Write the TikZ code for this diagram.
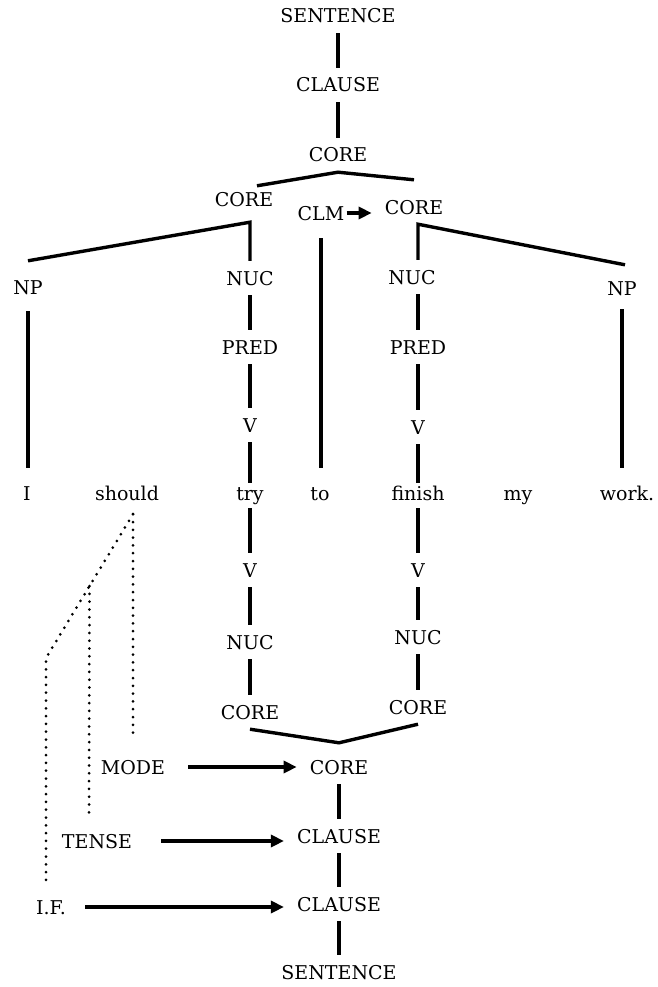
\documentclass[tikz,border=0pt]{standalone}
\usepackage{fontspec}
\setmainfont{DejaVu Serif}
\usetikzlibrary{arrows.meta,calc}

\tikzset{
  lbl/.style={inner xsep=2pt, inner ysep=10pt, text height=14pt, text depth=0pt},
  word/.style={anchor=base, inner xsep=2pt, inner ysep=3pt, text height=14pt, text depth=5pt},
  branch/.style={line width=3.4pt},
  feed/.style={line width=3.4pt, -{Triangle[length=13pt,width=12pt]}, shorten >=11pt},
  oper/.style={line width=3pt, line cap=round, dash pattern=on 0pt off 7.8pt},
}

\begin{document}
\begin{tikzpicture}[x=1pt, y=-1pt, font=\fontsize{19}{23}\selectfont]
    \useasboundingbox (0,0) rectangle (658,987);

    % constituent projection
    \node[lbl] (sentT) at (338,16) {SENTENCE};
    \node[lbl] (clauseT) at (338,85) {CLAUSE};
    \node[lbl] (coreT) at (338,155) {CORE};
    \node[lbl] (coreA) at (244,200) {CORE};
    \node[lbl] (clm) at (321,213) {CLM};
    \node[lbl] (coreB) at (414,207) {CORE};
    \node[lbl] (npA) at (28,287) {NP};
    \node[lbl] (nucA) at (250,278) {NUC};
    \node[lbl] (predA) at (250,347) {PRED};
    \node[lbl] (vA) at (250,425) {V};
    \node[lbl] (nucB) at (412,277) {NUC};
    \node[lbl] (predB) at (418,347) {PRED};
    \node[lbl] (vB) at (418,427) {V};
    \node[lbl] (npB) at (622,288) {NP};

    % the sentence itself
    \node[word] (wI) at (27,500) {I};
    \node[word] (wShould) at (127,500) {should};
    \node[word] (wTry) at (250,500) {try};
    \node[word] (wTo) at (320,500) {to};
    \node[word] (wFinish) at (418,500) {finish};
    \node[word] (wMy) at (518,500) {my};
    \node[word] (wWork) at (627,500) {work.};

    % operator projection
    \node[lbl] (vA2) at (250,570) {V};
    \node[lbl] (nucA2) at (250,642) {NUC};
    \node[lbl] (coreA2) at (250,712) {CORE};
    \node[lbl] (vB2) at (418,570) {V};
    \node[lbl] (nucB2) at (418,637) {NUC};
    \node[lbl] (coreB2) at (418,707) {CORE};
    \node[lbl] (coreJ) at (339,767) {CORE};
    \node[lbl] (clauseJ) at (339,836) {CLAUSE};
    \node[lbl] (clauseK) at (339,904) {CLAUSE};
    \node[lbl] (sentK) at (339,972) {SENTENCE};
    \node[lbl] (mode) at (133,767) {MODE};
    \node[lbl] (tense) at (97,841) {TENSE};
    \node[lbl] (illoc) at (51,907) {I.F.};

    % upper branches
    \draw[branch] (sentT) -- (clauseT);
    \draw[branch] (clauseT) -- (coreT);
    \draw[branch] ([xshift=13pt,yshift=-3pt]coreA.north) -- (coreT.south) -- ([yshift=10pt]coreB.north);
    \coordinate (kA) at ([xshift=6pt,yshift=-5pt]coreA.south);
    \coordinate (kB) at ([xshift=4pt]coreB.south);
    \draw[branch] ([yshift=9pt]npA.north) -- (kA) -- (kA |- nucA.north);
    \draw[branch] ([xshift=3pt,yshift=6pt]npB.north) -- (kB) -- (kB |- nucB.north);
    \draw[branch] (nucA) -- (predA);
    \draw[branch] (predA) -- (vA);
    \draw[branch] (vA) -- (wTry);
    \draw[branch] (nucB.south -| predB) -- (predB);
    \draw[branch] (predB) -- (vB);
    \draw[branch] (vB) -- (wFinish);
    \draw[branch, shorten >=15pt] ([yshift=-7pt]npA.south) -- (npA.south |- wI.north);
    \draw[branch, shorten >=15pt] ([yshift=-4pt]npB.south) -- (npB.south |- wWork.north);
    \draw[branch, shorten >=15pt] ([yshift=-8pt]clm.south) -- (clm.south |- wTo.north);
    \draw[feed] (clm.east) -- (clm.east -| coreB.west);

    % lower branches
    \draw[branch] (wTry) -- (vA2);
    \draw[branch] (vA2) -- (nucA2);
    \draw[branch] (nucA2) -- (coreA2);
    \draw[branch] (wFinish) -- (vB2);
    \draw[branch] (vB2) -- (nucB2);
    \draw[branch] (nucB2) -- (coreB2);
    \draw[branch] (coreA2.south) -- ([yshift=7pt]coreJ.north) -- (coreB2.south);
    \draw[branch] (coreJ) -- (clauseJ);
    \draw[branch] (clauseJ) -- (clauseK);
    \draw[branch] (clauseK) -- (sentK);

    % operators
    \draw[feed, shorten <=21pt] (mode) -- (coreJ);
    \draw[feed, shorten <=27pt] (tense.east) -- (tense.east -| clauseJ.west);
    \draw[feed, shorten <=17pt] (illoc.east) -- (illoc.east -| clauseK.west);
    \coordinate (dS) at ([xshift=6pt,yshift=-6pt]wShould.south);
    \coordinate (dK) at (46,658);
    \draw[oper] (dS) -- (dK) -- ([xshift=-5pt,yshift=8pt]illoc.north);
    \draw[oper] ($(dS)!0.5!(dK)$) -- ([xshift=-8pt,yshift=8pt]tense.north);
    \draw[oper] (dS) -- ([yshift=12pt]mode.north);
\end{tikzpicture}
\end{document}
